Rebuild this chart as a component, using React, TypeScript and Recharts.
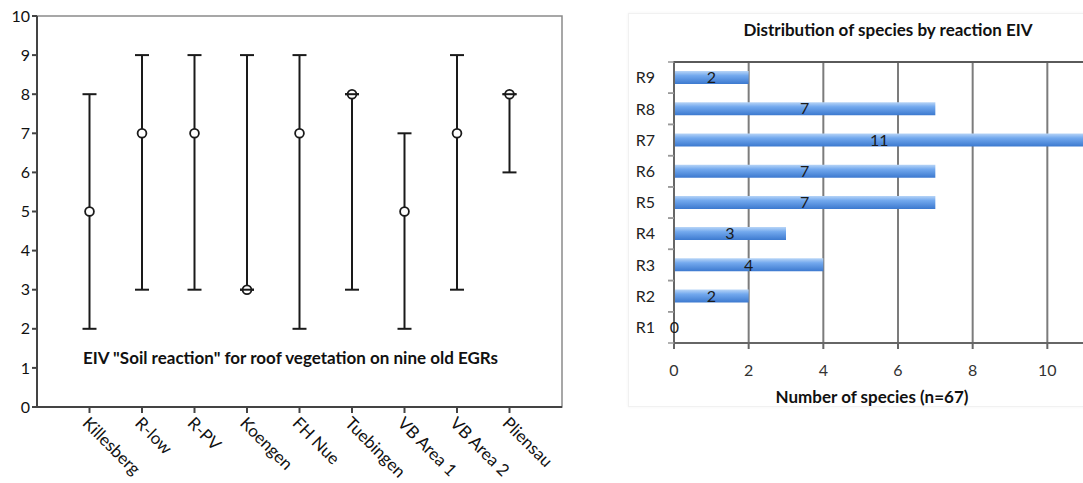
import {
    ScatterChart,
    Scatter,
    ErrorBar,
    BarChart,
    Bar,
    XAxis,
    YAxis,
    CartesianGrid,
    ReferenceArea,
    LabelList,
    Label,
} from 'recharts';

const FONT = 'Lato, "Open Sans", sans-serif';

// left chart: range of soil reaction values per roof
const sites = ['Killesberg', 'R-low', 'R-PV', 'Koengen', 'FH Nue', 'Tuebingen', 'VB Area 1', 'VB Area 2', 'Pliensau'];
const minValues = [2, 3, 3, 3, 2, 3, 2, 3, 6];
const maxValues = [8, 9, 9, 9, 9, 8, 7, 9, 8];
const medianValues = [5, 7, 7, 3, 7, 8, 5, 7, 8];
const eivTicks = [0, 1, 2, 3, 4, 5, 6, 7, 8, 9, 10];

// right chart: species count per reaction class
const reactionClasses = ['R9', 'R8', 'R7', 'R6', 'R5', 'R4', 'R3', 'R2', 'R1'];
const speciesCounts = [2, 7, 11, 7, 7, 3, 4, 2, 0];
const countTicks = [0, 2, 4, 6, 8, 10];

const rangeData = sites.map((name, i) => ({
    pos: i + 1,
    name,
    min: minValues[i],
    max: maxValues[i],
    median: medianValues[i],
    err: [medianValues[i] - minValues[i], maxValues[i] - medianValues[i]],
}));

const countData = reactionClasses.map((cls, i) => ({ cls, count: speciesCounts[i] }));

const MedianMark = (props: any) => {
    const { cx, cy, payload } = props;
    const onCap = payload.median === payload.min || payload.median === payload.max;
    return (
        <g>
            <circle cx={cx} cy={cy} r={4.4} fill='#fff' stroke='#1a1a1a' strokeWidth={1.8} />
            {onCap && <line x1={cx - 7} x2={cx + 7} y1={cy} y2={cy} stroke='#1a1a1a' strokeWidth={2} />}
        </g>
    );
};

const SiteTick = (props: any) => {
    const { x, y, payload } = props;
    return (
        <g transform={`translate(${x},${y})`}>
            <text
                transform='rotate(45)'
                x={1}
                y={0}
                dy='0.72em'
                textAnchor='start'
                fontSize={17}
                fontFamily={FONT}
                fill='#111'
            >
                {sites[payload.value - 1]}
            </text>
        </g>
    );
};

const ClassTick = (props: any) => {
    const { x, y, payload } = props;
    const half = payload.offset ?? 0;
    return (
        <g>
            <text x={x} y={y} dy='0.36em' textAnchor='end' fontSize={16} fontFamily={FONT} fill='#222'>
                {payload.value}
            </text>
            {half > 0 && (
                <>
                    <line x1={x + 13} x2={x + 19} y1={y - half} y2={y - half} stroke='#999' strokeWidth={1.5} />
                    <line x1={x + 13} x2={x + 19} y1={y + half} y2={y + half} stroke='#999' strokeWidth={1.5} />
                </>
            )}
        </g>
    );
};

const EivRangeChart = () => (
    <div style={{ position: 'absolute', left: 0, top: 0 }}>
        <ScatterChart width={580} height={483} margin={{ top: 16, right: 18, left: 0, bottom: 0 }}>
            <ReferenceArea x1={0} x2={10} y1={0} y2={10} fill='none' stroke='#8a8a8a' strokeWidth={1.5} />
            <XAxis
                type='number'
                dataKey='pos'
                domain={[0, 10]}
                ticks={[1, 2, 3, 4, 5, 6, 7, 8, 9]}
                height={76}
                tickSize={6}
                tickMargin={2}
                interval={0}
                stroke='#444'
                strokeWidth={2}
                tick={<SiteTick />}
            />
            <YAxis
                type='number'
                dataKey='median'
                domain={[0, 10]}
                ticks={eivTicks}
                width={37}
                tickSize={5}
                tickMargin={2}
                interval={0}
                stroke='#444'
                strokeWidth={2}
                tick={{ fontSize: 16, fontFamily: FONT, fill: '#111' }}
            />
            <Scatter data={rangeData} dataKey='median' shape={<MedianMark />} isAnimationActive={false}>
                <ErrorBar dataKey='err' direction='y' width={7} stroke='#1a1a1a' strokeWidth={2} />
            </Scatter>
        </ScatterChart>
        <div
            style={{
                position: 'absolute',
                left: 83,
                top: 347,
                fontFamily: FONT,
                fontWeight: 700,
                fontSize: 17,
                color: '#111',
                whiteSpace: 'nowrap',
            }}
        >
            EIV "Soil reaction" for roof vegetation on nine old EGRs
        </div>
    </div>
);

const SpeciesChart = () => (
    <div style={{ position: 'absolute', left: 620, top: 0 }}>
        <div
            style={{
                position: 'absolute',
                left: 8,
                top: 13,
                width: 470,
                height: 392,
                border: '1px solid #f1f1f1',
                boxShadow: '0 0 3px rgba(0,0,0,0.05)',
            }}
        />
        <div
            style={{
                position: 'absolute',
                left: 68,
                top: 19,
                width: 400,
                textAlign: 'center',
                fontFamily: FONT,
                fontWeight: 700,
                fontSize: 17,
                color: '#111',
                whiteSpace: 'nowrap',
            }}
        >
            Distribution of species by reaction EIV
        </div>
        <BarChart
            width={510}
            height={420}
            layout='vertical'
            data={countData}
            margin={{ top: 62, right: 8, left: 0, bottom: 0 }}
            style={{ position: 'relative' }}
        >
            <defs>
                <linearGradient id='barBlue' x1='0' y1='0' x2='0' y2='1'>
                    <stop offset='0%' stopColor='#b8d5f7' />
                    <stop offset='35%' stopColor='#73a9ee' />
                    <stop offset='100%' stopColor='#3c79cf' />
                </linearGradient>
            </defs>
            <CartesianGrid horizontal={false} stroke='#7c7c7c' strokeWidth={2} />
            <ReferenceArea x1={0} x2={12} fill='none' stroke='#5a5a5a' strokeWidth={2} />
            <XAxis
                type='number'
                domain={[0, 12]}
                ticks={countTicks}
                height={77}
                tickSize={6}
                tickMargin={16}
                stroke='#666'
                strokeWidth={2}
                tick={{ fontSize: 16, fontFamily: FONT, fill: '#333' }}
            >
                <Label
                    value='Number of species (n=67)'
                    position='insideBottom'
                    offset={17}
                    dx={-26}
                    style={{ fontSize: 17, fontFamily: FONT, fontWeight: 700, fill: '#111' }}
                />
            </XAxis>
            <YAxis
                type='category'
                dataKey='cls'
                width={54}
                tickSize={6}
                tickMargin={13}
                tickLine={false}
                interval={0}
                stroke='#666'
                strokeWidth={2}
                tick={<ClassTick />}
            />
            <Bar dataKey='count' barSize={13} minPointSize={1} fill='url(#barBlue)' isAnimationActive={false}>
                <LabelList dataKey='count' position='center' fontSize={16} fontFamily={FONT} fill='#1a1a1a' />
            </Bar>
        </BarChart>
    </div>
);

export default function App() {
    return (
        <div
            style={{
                position: 'absolute',
                left: 0,
                top: 0,
                width: 1083,
                height: 483,
                overflow: 'hidden',
                background: '#fff',
            }}
        >
            <EivRangeChart />
            <SpeciesChart />
        </div>
    );
}
